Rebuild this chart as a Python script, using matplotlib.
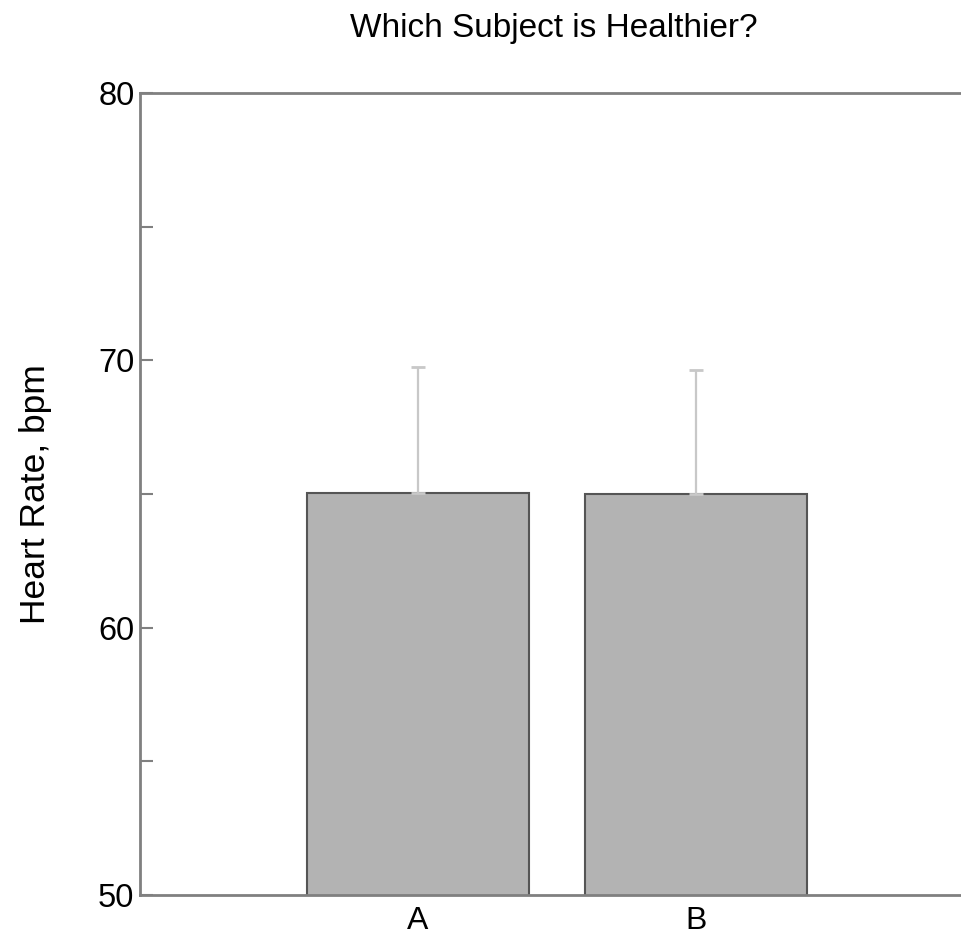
import numpy as np
import matplotlib.pyplot as plt
from matplotlib.ticker import MultipleLocator

plt.rcParams['font.family'] = ['Liberation Sans', 'DejaVu Sans']

subjects = ['A', 'B']
heart_rate = [65.05, 65.0]
err = [4.7, 4.65]

fig = plt.figure(figsize=(9.61, 9.35), dpi=100)
ax = fig.add_axes([140/961, 40/935, 834/961, 802/935])

x = np.arange(len(subjects))
ax.bar(x, heart_rate, width=0.8, color='#b3b3b3', edgecolor='#555555', linewidth=1.5)
ax.errorbar(x, heart_rate, yerr=[[0, 0], err], fmt='none', ecolor='#c8c8c8',
            elinewidth=1.6, capsize=5, capthick=2)

ax.set_xlim(-1, 2)
ax.set_ylim(50, 80)
ax.set_xticks(x)
ax.set_xticklabels(subjects)
ax.yaxis.set_major_locator(MultipleLocator(10))
ax.yaxis.set_minor_locator(MultipleLocator(5))

for s in ['top', 'left', 'bottom']:
    ax.spines[s].set_color('#808080')
    ax.spines[s].set_linewidth(2)
ax.spines['right'].set_visible(False)

ax.tick_params(axis='y', which='both', direction='in', length=9, width=1.5,
               color='#808080', labelsize=23.5, pad=4)
ax.tick_params(axis='x', length=0, labelsize=23, pad=8)

ax.set_ylabel('Heart Rate, bpm', fontsize=25.5, labelpad=33)
fig.text(554/961, 1 - 28/935, 'Which Subject is Healthier?', fontsize=24,
         ha='center', va='center')

plt.savefig('out.png', dpi=100)
